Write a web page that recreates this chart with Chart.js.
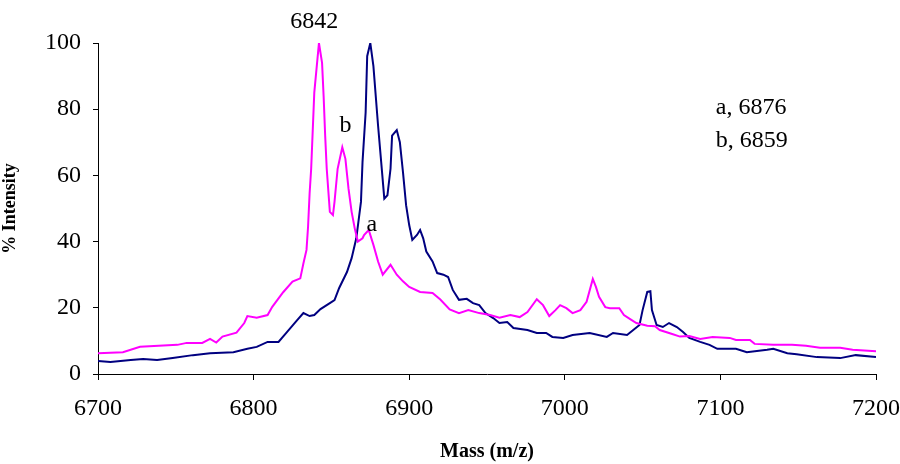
<!DOCTYPE html>
<html>
<head>
<meta charset="utf-8">
<script src="https://cdn.jsdelivr.net/npm/chart.js@4/dist/chart.umd.min.js"></script>
<style>
  html, body { margin: 0; padding: 0; background: #fff; }
  #wrap { width: 900px; height: 464px; }
</style>
</head>
<body>
<div id="wrap"><canvas id="chart"></canvas></div>
<script>
// pink trace (peak 6842, b = 6859, a = 6876)
const pinkMass = [6700, 6716, 6727, 6751, 6757, 6767, 6772, 6776, 6780, 6789, 6794, 6796, 6802, 6809, 6812, 6819, 6825, 6830, 6832, 6834, 6835, 6836, 6837, 6839, 6842, 6844, 6845, 6846, 6847, 6849, 6851, 6852, 6854, 6857, 6859, 6861, 6863, 6865, 6867, 6870, 6871, 6874, 6877, 6880, 6883, 6888, 6892, 6896, 6900, 6907, 6915, 6920, 6926, 6932, 6938, 6945, 6952, 6958, 6965, 6971, 6976, 6982, 6986, 6990, 6994, 6997, 7001, 7005, 7010, 7014, 7018, 7020, 7022, 7026, 7029, 7035, 7038, 7042, 7046, 7053, 7058, 7061, 7069, 7074, 7080, 7087, 7095, 7106, 7110, 7119, 7122, 7134, 7146, 7155, 7164, 7177, 7185, 7200];
const pinkInt = [6.3, 6.6, 8.2, 8.8, 9.4, 9.4, 10.6, 9.5, 11.3, 12.5, 15.4, 17.5, 17.0, 17.8, 20.3, 24.7, 27.9, 28.9, 33.4, 37.5, 44.5, 54.6, 62, 85, 100, 94, 84, 72, 62, 49, 48, 52, 62, 68.5, 65, 56, 49, 44, 40, 41, 42, 43.5, 39, 34, 30, 33, 30, 28, 26.3, 24.8, 24.5, 22.5, 19.5, 18.4, 19.3, 18.4, 17.8, 17.0, 17.8, 17.2, 18.7, 22.6, 20.8, 17.5, 19.3, 20.8, 19.9, 18.4, 19.3, 21.8, 28.7, 26.3, 23.3, 20.2, 19.9, 19.9, 17.8, 16.6, 15.4, 14.6, 14.4, 13.3, 12.1, 11.3, 11.5, 10.6, 11.2, 10.9, 10.3, 10.3, 9.1, 8.8, 8.8, 8.5, 7.9, 7.9, 7.3, 6.9];

// navy trace (peak 6875)
const navyMass = [6700, 6708, 6721, 6729, 6738, 6748, 6761, 6772, 6787, 6796, 6802, 6809, 6816, 6821, 6828, 6832, 6836, 6839, 6843, 6849, 6852, 6855, 6860, 6863, 6866, 6869, 6870, 6872, 6873, 6875, 6877, 6880, 6882, 6884, 6886, 6888, 6889, 6892, 6894, 6896, 6898, 6900, 6902, 6905, 6907, 6909, 6911, 6915, 6918, 6922, 6925, 6928, 6932, 6937, 6941, 6945, 6949, 6954, 6958, 6963, 6967, 6976, 6982, 6988, 6992, 6999, 7005, 7016, 7027, 7031, 7040, 7044, 7048, 7050, 7053, 7055, 7056, 7059, 7063, 7067, 7072, 7076, 7080, 7087, 7093, 7098, 7110, 7117, 7130, 7134, 7143, 7149, 7162, 7177, 7187, 7200];
const navyInt = [3.9, 3.6, 4.2, 4.5, 4.2, 4.8, 5.7, 6.3, 6.6, 7.6, 8.2, 9.7, 9.7, 12.4, 16.3, 18.4, 17.5, 17.8, 19.6, 21.4, 22.3, 26, 30.8, 35, 41, 52, 64, 79, 96, 100, 93, 75, 64, 53, 54, 62, 72, 73.7, 70, 61, 51, 45, 40.5, 42, 43.5, 41, 37, 34, 30.5, 30, 29.3, 25.4, 22.4, 22.7, 21.4, 20.8, 18.4, 16.9, 15.4, 15.7, 13.9, 13.3, 12.4, 12.4, 11.2, 10.9, 11.8, 12.4, 11.2, 12.4, 11.8, 13.3, 14.8, 19.3, 24.8, 25, 19.3, 14.8, 14.2, 15.4, 14.2, 12.7, 10.9, 9.7, 8.8, 7.6, 7.6, 6.6, 7.3, 7.6, 6.3, 6.0, 5.1, 4.8, 5.7, 5.1];

const xTicks = [6700, 6800, 6900, 7000, 7100, 7200];
const yTicks = [0, 20, 40, 60, 80, 100];

const peakLabels = ['6842', 'b', 'a'];
const legendLines = ['a, 6876', 'b, 6859'];

function toPoints(xs, ys) {
  return xs.map((x, i) => ({ x: x, y: ys[i] }));
}

const serif = '"Liberation Serif", "Times New Roman", serif';

// text notes placed in data coordinates
const notes = {
  id: 'notes',
  afterDraw(chart) {
    const ctx = chart.ctx;
    const xs = chart.scales.x, ys = chart.scales.y;
    ctx.save();
    ctx.fillStyle = '#000';
    ctx.font = '24px ' + serif;
    ctx.textAlign = 'center';
    ctx.textBaseline = 'middle';
    ctx.fillText(peakLabels[0], xs.getPixelForValue(6839), ys.getPixelForValue(106.5));
    ctx.fillText(peakLabels[1], xs.getPixelForValue(6859), ys.getPixelForValue(75));
    ctx.fillText(peakLabels[2], xs.getPixelForValue(6876), ys.getPixelForValue(45));
    ctx.textAlign = 'left';
    ctx.fillText(legendLines[0], xs.getPixelForValue(7097), ys.getPixelForValue(80.5));
    ctx.fillText(legendLines[1], xs.getPixelForValue(7097), ys.getPixelForValue(70.5));
    ctx.restore();
  }
};

new Chart(document.getElementById('chart'), {
  type: 'line',
  data: {
    datasets: [
      {
        label: 'pink',
        data: toPoints(pinkMass, pinkInt),
        borderColor: '#ff00ff',
        borderWidth: 2,
        pointRadius: 0,
        tension: 0,
        fill: false
      },
      {
        label: 'navy',
        data: toPoints(navyMass, navyInt),
        borderColor: '#000080',
        borderWidth: 2,
        pointRadius: 0,
        tension: 0,
        fill: false
      }
    ]
  },
  options: {
    responsive: true,
    maintainAspectRatio: false,
    animation: false,
    layout: { padding: { top: 43, right: 2, left: 0, bottom: 0 } },
    plugins: {
      legend: { display: false },
      tooltip: { enabled: false }
    },
    scales: {
      x: {
        type: 'linear',
        min: 6700,
        max: 7200,
        afterBuildTicks: s => { s.ticks = xTicks.map(v => ({ value: v })); },
        afterFit: s => { s.height = 90; s.paddingRight = 24; s.paddingLeft = 0; },
        border: { color: '#000', width: 1 },
        grid: { drawOnChartArea: false, drawTicks: true, tickLength: 6, tickColor: '#000' },
        ticks: { color: '#000', font: { family: serif, size: 24 }, padding: 14, maxRotation: 0, callback: v => String(v) },
        title: { display: true, text: 'Mass (m/z)', color: '#000', font: { family: serif, size: 20, weight: 'bold' }, padding: { top: 0, bottom: 0 } }
      },
      y: {
        min: 0,
        max: 100,
        afterBuildTicks: s => { s.ticks = yTicks.map(v => ({ value: v })); },
        afterFit: s => { s.width = 98; },
        border: { color: '#000', width: 1 },
        grid: { drawOnChartArea: false, drawTicks: true, tickLength: 5, tickColor: '#000' },
        ticks: { color: '#000', font: { family: serif, size: 24 }, padding: 12 },
        title: { display: true, text: '% Intensity', color: '#000', font: { family: serif, size: 18, weight: 'bold' }, padding: { top: 0, bottom: 0 } }
      }
    }
  },
  plugins: [notes]
});
</script>
</body>
</html>
